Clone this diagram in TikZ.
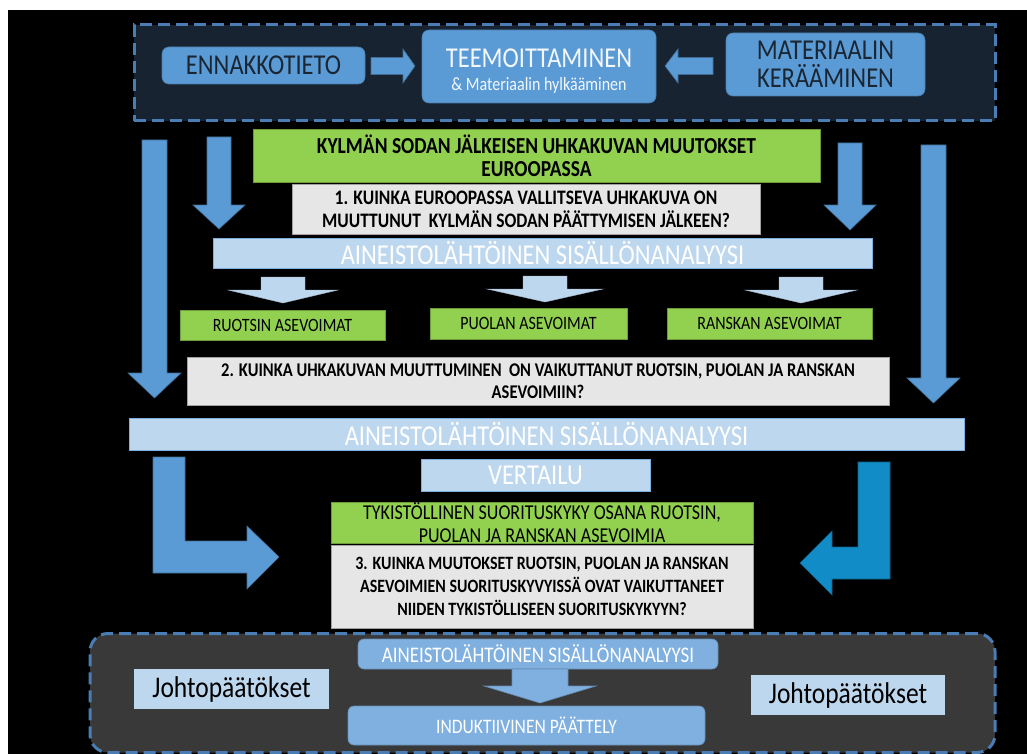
\documentclass[tikz,border=0pt]{standalone}
\usepackage{fontspec}
\setmainfont{Carlito}[FakeStretch=0.85]
\usetikzlibrary{positioning}
\definecolor{boxblue}{HTML}{5B9BD5}
\definecolor{pale}{HTML}{BDD7EE}
\definecolor{leaf}{HTML}{92D050}
\definecolor{stone}{HTML}{E7E6E6}
\definecolor{navyfill}{HTML}{172331}
\definecolor{coal}{HTML}{393939}
\definecolor{dashblue}{HTML}{4A7DB4}
\definecolor{navytext}{HTML}{1A2633}
\definecolor{softblue}{HTML}{7FB0DF}
\definecolor{teal}{HTML}{128CC6}
\tikzset{font=\fontsize{28.8}{28}\selectfont}
\tikzset{
  dashframe/.style={draw=dashblue, line width=3pt, dash pattern=on 12pt off 6pt},
  bluebox/.style={fill=boxblue, draw=boxblue!80!black, line width=.6pt, rounded corners=7pt,
    text=navytext, align=center, inner sep=0pt},
  greenbox/.style={fill=leaf, draw=leaf!75!black, line width=.6pt, text=black, align=center, inner sep=0pt},
  graybox/.style={fill=stone, draw=stone!70!black, line width=.6pt, text=black, align=center, inner sep=0pt},
  barbox/.style={fill=pale, draw=boxblue!80, line width=.8pt, text=white, inner sep=0pt},
  softbox/.style={fill=softblue, draw=softblue!80!black, line width=.6pt, rounded corners=6pt, text=white, inner sep=0pt},
  blockarrow/.style={fill=boxblue, draw=boxblue!70!black, line width=.6pt},
  smallarrow/.style={fill=pale, draw=pale!85!black, line width=.4pt},
}
% #1 style, #2 x, #3 top, #4 head start, #5 tip, #6 half shaft, #7 half head
\newcommand{\downblock}[7]{%
  \filldraw[#1] ({#2-#6},#3) -- ({#2+#6},#3) -- ({#2+#6},#4) -- ({#2+#7},#4)
    -- (#2,#5) -- ({#2-#7},#4) -- ({#2-#6},#4) -- cycle;}

\begin{document}
\begin{tikzpicture}[x=1pt, y=-1pt]
  \useasboundingbox (0,0) rectangle (1027,754);
  \fill[white] (0,0) rectangle (1027,754);
  \fill[black] (8,10) rectangle (1027,754);

  % top frame
  \node[dashframe, fill=navyfill, minimum width=861pt, minimum height=96pt] (top) at (564.5,73) {};
  \node[bluebox, minimum width=203pt, minimum height=37pt] (prior) at (263.5,65.5) {ENNAKKOTIETO};
  \node[bluebox, minimum width=234pt, minimum height=73pt] (theme) at (539,66.5) {};
  \node[align=center, text=white!92!boxblue, inner sep=0pt] (themetext) at (539,71)
    {TEEMOITTAMINEN\\[-5pt]{\fontsize{18.8}{20}\selectfont \& Materiaalin hylkääminen}};
  \node[bluebox, minimum width=199pt, minimum height=63pt] (collect) at (825.5,64.5) {MATERIAALIN\\KERÄÄMINEN};
  \filldraw[blockarrow] (371,57.5) -- (403,57.5) -- (403,49) -- (415,66) -- (403,83) -- (403,74.5) -- (371,74.5) -- cycle;
  \filldraw[blockarrow] (713,57.5) -- (678,57.5) -- (678,49) -- (665,66) -- (678,83) -- (678,74.5) -- (713,74.5) -- cycle;

  % first question
  \node[greenbox, font=\bfseries\fontsize{22.9}{23}\selectfont, minimum width=567pt, minimum height=53pt] (europe) at (536.5,155.5)
    {KYLMÄN SODAN JÄLKEISEN UHKAKUVAN MUUTOKSET\\EUROOPASSA};
  \node[graybox, font=\bfseries\fontsize{20.6}{23}\selectfont, minimum width=468pt, minimum height=50pt] (q1) at (526,209)
    {1. KUINKA EUROOPASSA VALLITSEVA UHKAKUVA ON\\MUUTTUNUT\ \ KYLMÄN SODAN PÄÄTTYMISEN JÄLKEEN?};
  \downblock{blockarrow}{219}{137}{205}{229}{12}{26}
  \downblock{blockarrow}{850}{143}{205}{230}{12}{26}
  \downblock{blockarrow}{154.5}{140}{373}{398}{12.5}{26.5}
  \downblock{blockarrow}{933.5}{145}{378}{403}{12.5}{26.5}
  \node[barbox, minimum width=659pt, minimum height=30pt] (ana1) at (542.5,253.5) {AINEISTOLÄHTÖINEN SISÄLLÖNANALYYSI};

  % armed forces
  \downblock{smallarrow}{283}{277}{290}{303}{22}{55}
  \downblock{smallarrow}{545}{276}{289}{302}{22}{58}
  \downblock{smallarrow}{801}{277}{290}{303}{22}{56}
  \node[greenbox, font=\fontsize{18.8}{19}\selectfont, minimum width=205pt, minimum height=30pt] (swe) at (282.5,325) {RUOTSIN ASEVOIMAT};
  \node[greenbox, font=\fontsize{18.8}{19}\selectfont, minimum width=197pt, minimum height=31pt] (pol) at (528.5,323.5) {PUOLAN ASEVOIMAT};
  \node[greenbox, font=\fontsize{18.8}{19}\selectfont, minimum width=205pt, minimum height=31pt] (fra) at (769.5,323.5) {RANSKAN ASEVOIMAT};
  \node[graybox, font=\bfseries\fontsize{19.4}{22}\selectfont, minimum width=702pt, minimum height=48pt] (q2) at (538,381)
    {2. KUINKA UHKAKUVAN MUUTTUMINEN\ \ ON VAIKUTTANUT RUOTSIN, PUOLAN JA RANSKAN\\ASEVOIMIIN?};
  \node[barbox, minimum width=835pt, minimum height=32pt] (ana2) at (546.5,434) {AINEISTOLÄHTÖINEN SISÄLLÖNANALYYSI};

  % comparison
  \node[barbox, minimum width=229pt, minimum height=32pt] (compare) at (535.5,475) {VERTAILU};
  \node[greenbox, font=\fontsize{21.2}{23}\selectfont, minimum width=422pt, minimum height=41pt] (artillery) at (542,522.5)
    {TYKISTÖLLINEN SUORITUSKYKY OSANA RUOTSIN,\\PUOLAN JA RANSKAN ASEVOIMIA};
  \node[graybox, font=\bfseries\fontsize{18.8}{23}\selectfont, minimum width=422pt, minimum height=83pt] (q3) at (542,586.5)
    {3. KUINKA MUUTOKSET RUOTSIN, PUOLAN JA RANSKAN\\ASEVOIMIEN SUORITUSKYVYISSÄ OVAT VAIKUTTANEET\\NIIDEN TYKISTÖLLISEEN SUORITUSKYKYYN?};
  \filldraw[blockarrow] (153,457) -- (185,457) -- (185,541) -- (247,541) -- (247,526) -- (279,557)
    -- (247,589) -- (247,573) -- (153,573) -- cycle;
  \filldraw[blockarrow, fill=teal, draw=teal!70!black] (890,462) -- (858,462) -- (858,547) -- (832,547) -- (832,531)
    -- (800,563) -- (832,595) -- (832,579) -- (890,579) -- cycle;

  % conclusions
  \node[dashframe, fill=coal, rounded corners=18pt, minimum width=905pt, minimum height=119pt] (bottom) at (542.5,693) {};
  \node[softbox, font=\fontsize{22.3}{22}\selectfont, minimum width=360pt, minimum height=30pt] (ana3) at (538,654) {AINEISTOLÄHTÖINEN SISÄLLÖNANALYYSI};
  \downblock{blockarrow, fill=softblue, draw=softblue!80!black}{540}{669}{686}{703}{28}{56}
  \node[softbox, font=\fontsize{20.6}{21}\selectfont, minimum width=357pt, minimum height=39pt] (induct) at (526.5,725.5) {INDUKTIIVINEN PÄÄTTELY};
  \node[fill=pale, text=black, font=\fontsize{30}{30}\selectfont, minimum width=195pt, minimum height=40pt, inner sep=0pt] (concl1) at (231.5,689) {Johtopäätökset};
  \node[fill=pale, text=black, font=\fontsize{30}{30}\selectfont, minimum width=194pt, minimum height=40pt, inner sep=0pt] (concl2) at (848,695) {Johtopäätökset};
\end{tikzpicture}
\end{document}
